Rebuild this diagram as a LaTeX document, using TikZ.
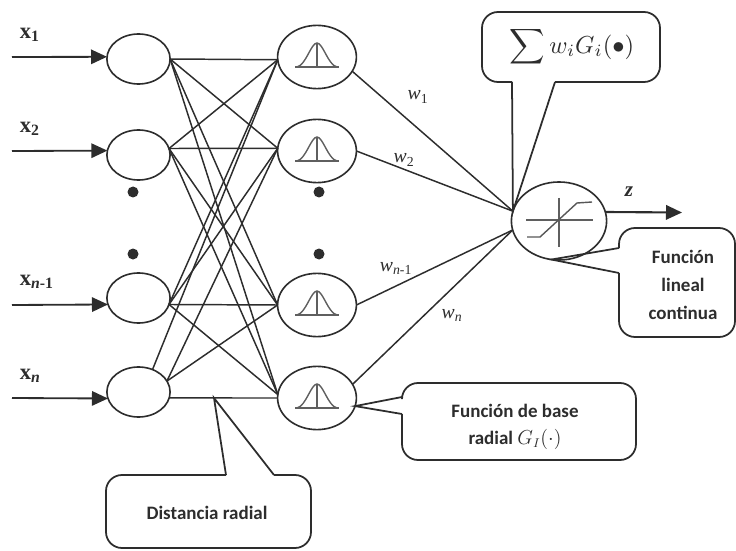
\documentclass[tikz,border=0pt]{standalone}
\usepackage{fontspec}
\setmainfont{Liberation Serif}
\newfontfamily\boxfont{Carlito}[BoldFont={Carlito Bold}]
\usetikzlibrary{shapes.geometric,arrows.meta}

\definecolor{ink}{RGB}{45,45,45}
\definecolor{icon}{RGB}{95,95,95}

\tikzset{
  unit/.style={draw=ink, line width=1.15pt, ellipse, inner sep=0pt, outer sep=0pt},
  inunit/.style={unit, minimum width=1.58cm, minimum height=1.25cm},
  rbfunit/.style={unit, minimum width=1.97cm, minimum height=1.58cm},
  link/.style={draw=ink, line width=1.05pt},
  feed/.style={draw=ink, line width=1.3pt, -{Triangle[length=4mm,width=3.6mm]}},
  balloon/.style={draw=ink, line width=1.25pt, rounded corners=0.4cm},
  boxlabel/.style={font=\boxfont\bfseries\fontsize{13.5}{19}\selectfont, text=ink, align=center},
  inlabel/.style={font=\bfseries\fontsize{16}{18}\selectfont, text=ink, anchor=west},
  wlabel/.style={font=\fontsize{14}{16}\selectfont, text=ink}
}

\begin{document}
\begin{tikzpicture}[x=0.025cm, y=-0.025cm]
  \useasboundingbox (0,0) rectangle (736,551);

  % the two columns of units
  \foreach \i/\yy in {1/59,2/155,3/298,4/392}{
    \node[inunit] (in\i) at (138.5,\yy) {};
  }
  \foreach \i/\yy in {1/57,2/151,3/305,4/398}{
    \node[rbfunit] (rbf\i) at (317,\yy) {};
    % the radial function inside each unit
    \draw[icon, line width=1pt] ([shift={(-22,10)}]rbf\i.center) -- ([shift={(22,10)}]rbf\i.center);
    \draw[icon, line width=0.8pt] ([shift={(0,-13)}]rbf\i.center) -- ([shift={(0,10)}]rbf\i.center);
    \draw[icon, line width=1pt] ([shift={(-20,10)}]rbf\i.center)
      .. controls ([shift={(-11,8)}]rbf\i.center) and ([shift={(-6,-14)}]rbf\i.center) .. ([shift={(0,-14)}]rbf\i.center)
      .. controls ([shift={(6,-14)}]rbf\i.center) and ([shift={(11,8)}]rbf\i.center) .. ([shift={(20,10)}]rbf\i.center);
  }
  \node[unit, minimum width=2.38cm, minimum height=1.95cm] (out) at (559,221) {};

  % the inputs
  \foreach \i/\yy/\ang in {1/57/176,2/151/172,3/305/192,4/398/192}{
    \coordinate (src\i) at (12,\yy);
    \draw[feed] (src\i) -- (in\i.\ang);
  }
  \node[inlabel] (lx1) at (15,35) {x\textsubscript{1}};
  \node[inlabel] (lx2) at (15,129) {x\textsubscript{2}};
  \node[inlabel] (lx3) at (15,282) {x\textsubscript{\textit{n}-1}};
  \node[inlabel] (lx4) at (15,376) {x\textsubscript{\textit{n}}};

  % dots between the units
  \foreach \x/\yy in {133/192,133/254,319/192,319/254}{
    \fill[ink] (\x,\yy) circle (5.5);
  }

  % every input unit to every radial unit
  \foreach \a/\b in {in1.east/rbf1.184, in1.east/rbf2.176, in1.east/rbf3.180, in1.east/rbf4.175,
                     in2.12/rbf1.184, in2.12/rbf2.176, in2.12/rbf3.180, in2.12/rbf4.175,
                     in3.-12/rbf1.184, in3.-12/rbf2.176, in3.-12/rbf3.180, in3.-12/rbf4.175,
                     in4.58/rbf1.184, in4.21/rbf2.176, in4.21/rbf3.180, in4.-11/rbf4.180}{
    \draw[link] (\a) -- (\b);
  }

  % weighted links to the output
  \draw[link] (rbf1.-22) -- (out.168);
  \draw[link] (rbf2.east) -- (out.168);
  \draw[link] (rbf3.east) -- (out.191);
  \draw[link] (rbf4.21) -- (out.191);
  \node[wlabel] (w1) at (418,97) {\textit{w}\textsubscript{1}};
  \node[wlabel] (w2) at (404,160) {\textit{w}\textsubscript{2}};
  \node[wlabel] (w3) at (396,268) {\textit{w}\textsubscript{\textit{n}-1}};
  \node[wlabel] (w4) at (452,315) {\textit{w}\textsubscript{\textit{n}}};

  % output unit, its activation and the arrow
  \draw[icon, line width=1pt] (526,220) -- (593,220);
  \draw[icon, line width=1pt] (559,198) -- (559,247);
  \draw[ink!80, line width=1pt] (527,237) -- (540,237) -- (577,203) -- (592,202);
  \coordinate (zend) at (682,212.5);
  \draw[feed, line width=1.5pt] (out.11) -- (zend);
  \node[font=\bfseries\itshape\fontsize{15}{16}\selectfont, text=ink] (zlab) at (629,192) {z};

  % callouts
  \draw[balloon] (512,82) -- (482,82) -- (482,12) -- (660,12) -- (660,82) -- (555,82);
  \draw[link, line width=1.25pt] (512,82) -- (out.168) -- (555,82);
  \node[text=ink, scale=1.75] (sumlab) at (572,47) {$\displaystyle\sum w_i G_i(\bullet)$};

  \draw[balloon] (619,248) -- (619,228) -- (735,228) -- (735,337) -- (619,337) -- (619,273);
  \draw[link, line width=1.25pt] (619,248) -- (out.-101) -- (619,273);
  \node[boxlabel] (linlab) at (683,285) {Función\\[1pt]lineal\\[1pt]continua};

  \draw[balloon] (402,397) -- (402,383) -- (636,383) -- (636,460) -- (402,460) -- (402,414);
  \draw[link, line width=1.25pt] (402,397) -- (rbf4.-12) -- (402,414);
  \node[boxlabel] (rbflab) at (515,427) {Función de base\\radial $G_I(\cdot)$};

  \coordinate (tap) at (214,398);
  \draw[balloon] (226,475) -- (106,475) -- (106,548) -- (311,548) -- (311,475) -- (274,475);
  \draw[link, line width=1.25pt] (226,475) -- (tap) -- (274,475);
  \node[boxlabel] (distlab) at (207,513) {Distancia radial};

\end{tikzpicture}
\end{document}
